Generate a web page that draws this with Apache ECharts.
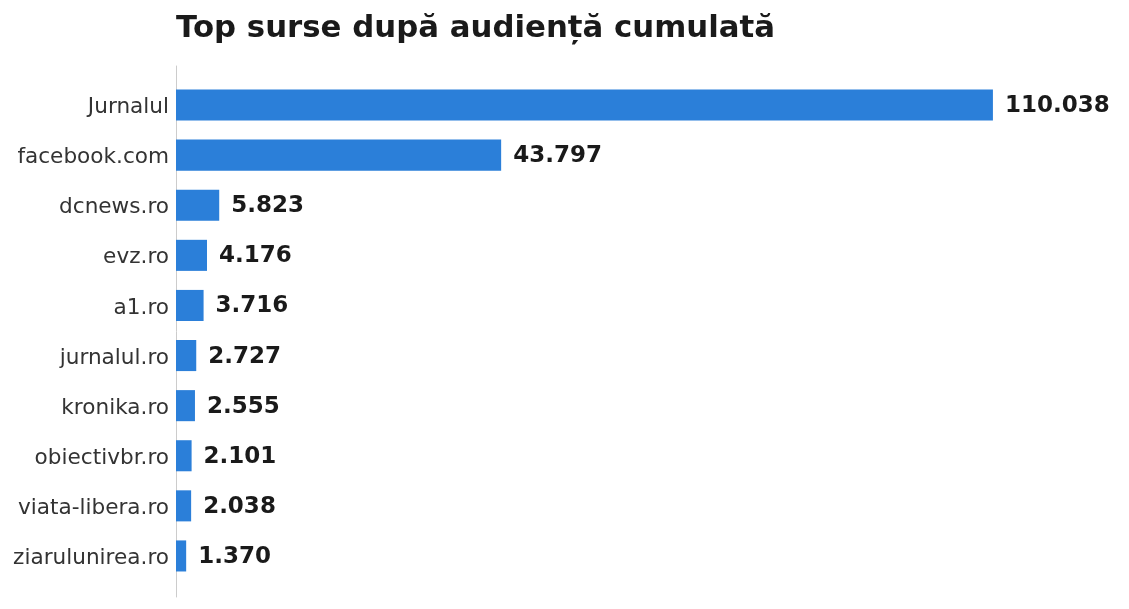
<!DOCTYPE html>
<html>
<head>
    <meta charset="utf-8">
    <title>Top surse</title>
    <script src="https://cdn.jsdelivr.net/npm/echarts@6/dist/echarts.min.js"></script>
</head>
<body style="margin:0;background-color:#fff;">
    <div id="main" style="width:1129px;height:609px;"></div>
    <script type="text/javascript">
        // 来源名称
        var sources = ['Jurnalul', 'facebook.com', 'dcnews.ro', 'evz.ro', 'a1.ro', 'jurnalul.ro',
            'kronika.ro', 'obiectivbr.ro', 'viata-libera.ro', 'ziarulunirea.ro'];
        // 累计受众
        var audience = [110038, 43797, 5823, 4176, 3716, 2727, 2555, 2101, 2038, 1370];

        var font = 'DejaVu Sans';

        // 千位用点分隔
        function fmt(v) {
            return String(v).replace(/\B(?=(\d{3})+(?!\d))/g, '.');
        }

        var myChart = echarts.init(document.getElementById('main'));

        var option = {
            animation: false,
            title: {
                text: 'Top surse după audiență cumulată',
                left: 171,
                top: 8,
                textStyle: {
                    fontFamily: font,
                    fontSize: 30.8,
                    fontWeight: 'bold',
                    color: '#1a1a1a'
                }
            },
            grid: [
                { left: 176, top: 80, width: 928, height: 501 },
                // 只用来画左边那条竖线
                { left: 176, top: 66, width: 928, height: 531 }
            ],
            xAxis: [
                {
                    type: 'value', gridIndex: 0, min: 0, max: 125000,
                    show: false
                },
                {
                    type: 'value', gridIndex: 1, min: 0, max: 1,
                    show: false
                }
            ],
            yAxis: [
                {
                    type: 'category',
                    gridIndex: 0,
                    inverse: true,
                    data: sources,
                    axisLine: { show: false },
                    axisTick: { show: false },
                    axisLabel: {
                        margin: 7,
                        formatter: function (v) { return '{a|' + v + '}'; },
                        rich: {
                            a: {
                                padding: [5, 0, 0, 0],
                                fontFamily: font,
                                fontSize: 21.6,
                                color: '#333333'
                            }
                        }
                    }
                },
                {
                    type: 'value',
                    gridIndex: 1,
                    min: 0, max: 1,
                    axisLine: { show: true, lineStyle: { color: '#cccccc', width: 1 } },
                    axisTick: { show: false },
                    axisLabel: { show: false },
                    splitLine: { show: false }
                }
            ],
            series: [
                {
                    type: 'bar',
                    xAxisIndex: 0,
                    yAxisIndex: 0,
                    data: audience,
                    barWidth: '62%',
                    itemStyle: { color: '#2b7fd9' },
                    label: {
                        show: true,
                        position: 'right',
                        distance: 12,
                        offset: [0, 1],
                        fontFamily: font,
                        fontSize: 23,
                        fontWeight: 'bold',
                        color: '#1a1a1a',
                        formatter: function (p) { return fmt(p.value); }
                    }
                }
            ]
        };
        myChart.setOption(option);
    </script>
</body>
</html>
